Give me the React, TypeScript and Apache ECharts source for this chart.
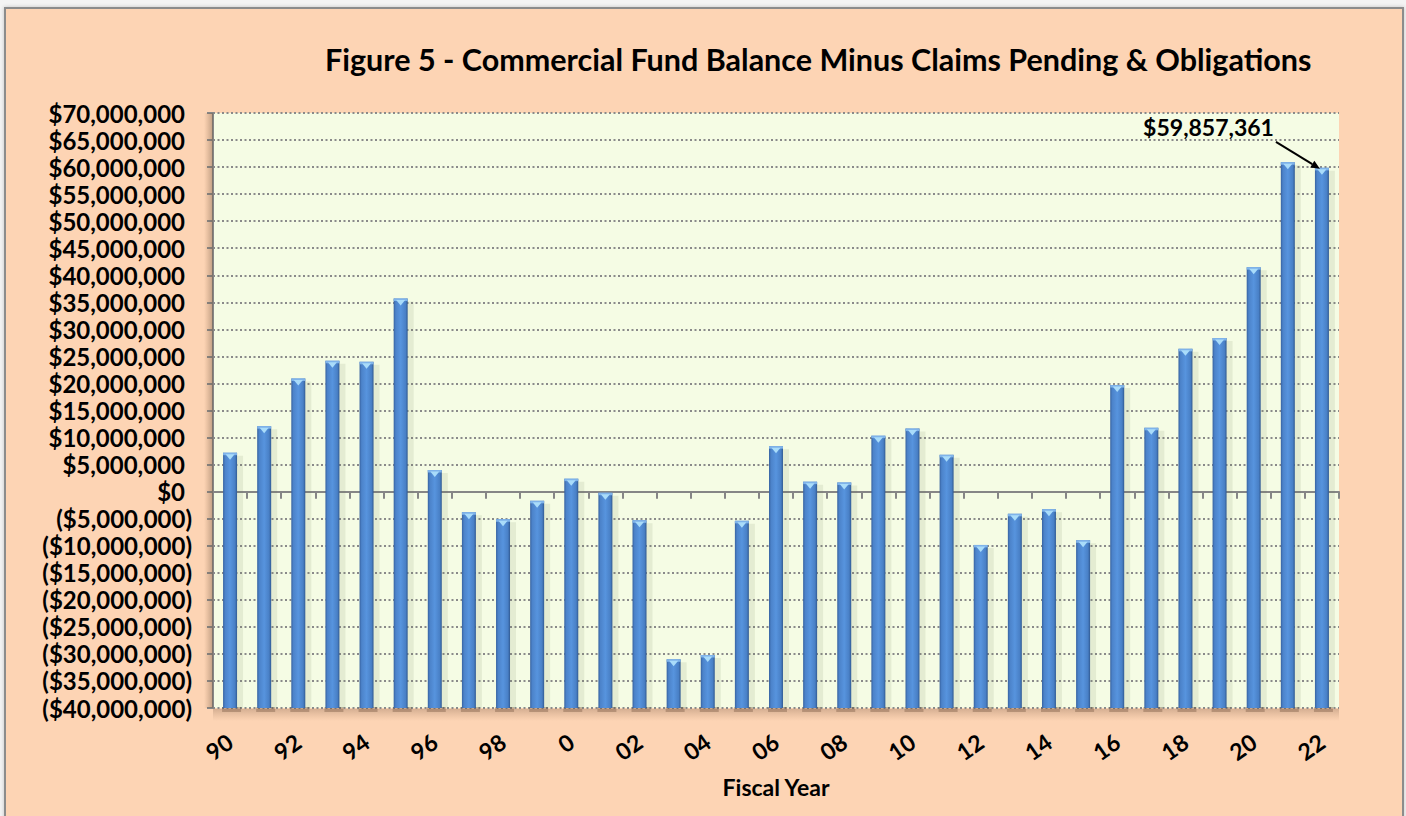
import React, { useEffect, useRef } from "react";
import * as echarts from "echarts";

const categories = [
  "90", "91", "92", "93", "94", "95", "96", "97", "98", "99",
  "0", "01", "02", "03", "04", "05", "06", "07", "08", "09",
  "10", "11", "12", "13", "14", "15", "16", "17", "18", "19",
  "20", "21", "22",
];

const balances = [
  7200000, 12100000, 20900000, 24200000, 24000000, 35700000, 4000000, -3800000, -5100000, -1700000,
  2400000, -200000, -5300000, -31000000, -30200000, -5400000, 8400000, 1850000, 1700000, 10350000,
  11650000, 6800000, -9850000, -4100000, -3250000, -9000000, 19700000, 11800000, 26400000, 28400000,
  41500000, 60900000, 59857361,
];

const Y_MIN = -40000000;
const Y_MAX = 70000000;
const Y_STEP = 5000000;

const TITLE = "Figure 5 - Commercial Fund Balance Minus Claims Pending & Obligations";
const X_NAME = "Fiscal Year";
const CALLOUT_INDEX = 32;
const CALLOUT_TEXT = "$59,857,361";

const FONT = "Lato";

function money(v: number): string {
  const s = Math.abs(v).toLocaleString("en-US");
  return v < 0 ? `{n|($${s})}` : `{n|$${s}}{p|}`;
}

export default function App() {
  const ref = useRef<HTMLDivElement>(null);

  useEffect(() => {
    if (!ref.current) return;
    const chart = echarts.init(ref.current, undefined, { renderer: "svg" });

    const gridLeft = 213;
    const gridTop = 113;
    const gridWidth = 1126;
    const gridHeight = 595;

    chart.setOption({
      animation: false,
      backgroundColor: "transparent",
      title: {
        text: TITLE,
        left: 320,
        top: 38,
        textStyle: { fontFamily: FONT, fontWeight: "bold", fontSize: 30.5, color: "#000" },
      },
      grid: {
        left: gridLeft,
        top: gridTop,
        width: gridWidth,
        height: gridHeight,
        show: true,
        backgroundColor: "#F5FCE4",
        borderWidth: 0,
      },
      xAxis: {
        type: "category",
        data: categories,
        boundaryGap: true,
        axisLine: { show: true, lineStyle: { color: "#868686", width: 2 } },
        axisTick: { show: true, interval: 0, length: 7, lineStyle: { color: "#868686", width: 2 } },
        axisLabel: {
          interval: 1,
          rotate: 35,
          margin: 31,
          fontFamily: FONT,
          fontWeight: "bold",
          fontSize: 23,
          color: "#000",
        },
        name: X_NAME,
        nameLocation: "middle",
        nameGap: 67,
        nameTextStyle: { fontFamily: FONT, fontWeight: "bold", fontSize: 23, color: "#000" },
        splitLine: { show: false },
      },
      yAxis: {
        type: "value",
        min: Y_MIN,
        max: Y_MAX,
        interval: Y_STEP,
        axisLine: { show: true, lineStyle: { color: "#868686", width: 2 } },
        axisTick: { show: true, length: 6, lineStyle: { color: "#868686", width: 2 } },
        splitLine: { show: true, lineStyle: { color: "#8a8a8a", width: 2, type: [2, 2.5] } },
        axisLabel: {
          margin: 21,
          formatter: (v: number) => money(v),
          rich: {
            n: { fontFamily: FONT, fontWeight: "bold", fontSize: 24, color: "#000" },
            p: { width: 7 },
          },
        },
      },
      series: [
        {
          type: "custom",
          encode: { x: 0, y: 1 },
          data: balances.map((v, i) => [i, v]),
          renderItem: (params: any, api: any) => {
            const i = api.value(0);
            const v = api.value(1);
            const top = api.coord([i, v]);
            const base = api.coord([i, Y_MIN]);
            const w = api.size([1, 0])[0] * 0.41;
            const x = top[0] - w / 2;
            const y = top[1];
            const h = base[1] - top[1];
            return {
              type: "group",
              children: [
                {
                  type: "rect",
                  shape: { x: x + 2, y: y + 3, width: w + 4, height: h - 3 },
                  style: { fill: "rgba(110,120,80,0.12)" },
                },
                {
                  type: "rect",
                  shape: { x: x - 1, y: base[1] - 1, width: w + 5, height: 5 },
                  style: { fill: "rgba(90,60,40,0.3)" },
                },
                {
                  type: "rect",
                  shape: { x, y, width: w, height: h },
                  style: {
                    fill: {
                      type: "linear",
                      x: 0, y: 0, x2: 1, y2: 0,
                      colorStops: [
                        { offset: 0, color: "#3762A0" },
                        { offset: 0.15, color: "#4C83CA" },
                        { offset: 0.5, color: "#5794DE" },
                        { offset: 0.85, color: "#4980C6" },
                        { offset: 1, color: "#315A92" },
                      ],
                    },
                  },
                },
                {
                  type: "rect",
                  shape: { x, y, width: w, height: 2.5 },
                  style: { fill: "#7FB3EA" },
                },
                {
                  type: "polygon",
                  shape: { points: [[x + 2.5, y + 1.5], [x + w - 2.5, y + 1.5], [top[0], y + 7]] },
                  style: { fill: "#A9DCFA" },
                },
              ],
            };
          },
        },
      ],
    });

    const pt = chart.convertToPixel({ xAxisIndex: 0, yAxisIndex: 0 }, [
      categories[CALLOUT_INDEX],
      balances[CALLOUT_INDEX],
    ]) as number[];

    const ax = pt[0] - 46;
    const ay = pt[1] - 26;
    const tx = pt[0] - 2;
    const ty = pt[1] + 1;
    const ang = Math.atan2(ty - ay, tx - ax);
    const ah = 9;
    const aw = 4;
    const bx = tx - ah * Math.cos(ang);
    const by = ty - ah * Math.sin(ang);

    chart.setOption({
      graphic: [
        {
          type: "rect",
          shape: { x: gridLeft - 9, y: gridTop, width: 9, height: gridHeight },
          style: {
            fill: {
              type: "linear", x: 0, y: 0, x2: 1, y2: 0,
              colorStops: [
                { offset: 0, color: "rgba(150,110,80,0)" },
                { offset: 1, color: "rgba(110,90,70,0.45)" },
              ],
            },
          },
          silent: true,
          z: 1,
        },
        {
          type: "rect",
          shape: { x: gridLeft, y: gridTop + gridHeight + 1, width: gridWidth, height: 12 },
          style: {
            fill: {
              type: "linear", x: 0, y: 0, x2: 0, y2: 1,
              colorStops: [
                { offset: 0, color: "rgba(110,80,60,0.28)" },
                { offset: 1, color: "rgba(150,110,80,0)" },
              ],
            },
          },
          silent: true,
          z: 1,
        },
        {
          type: "line",
          shape: { x1: ax, y1: ay, x2: bx, y2: by },
          style: { stroke: "#000", lineWidth: 2 },
          z: 10,
        },
        {
          type: "polygon",
          shape: {
            points: [
              [tx, ty],
              [bx + aw * Math.sin(ang), by - aw * Math.cos(ang)],
              [bx - aw * Math.sin(ang), by + aw * Math.cos(ang)],
            ],
          },
          style: { fill: "#000" },
          z: 10,
        },
        {
          type: "text",
          x: ax - 2,
          y: ay - 15,
          style: {
            text: CALLOUT_TEXT,
            align: "right",
            verticalAlign: "middle",
            fontFamily: FONT,
            fontWeight: "bold",
            fontSize: 23,
            fill: "#000",
          },
          z: 10,
        },
      ],
    });

    return () => chart.dispose();
  }, []);

  return (
    <div style={{ position: "absolute", left: 0, top: 0, width: 1406, height: 816, background: "#f4f4f4", overflow: "hidden" }}>
      <div
        style={{
          position: "absolute",
          left: 4,
          top: 7,
          width: 1396,
          height: 830,
          background: "#FDD4B4",
          border: "2px solid #8c8c8c",
          boxShadow: "0 0 4px rgba(0,0,0,0.2)",
        }}
      />
      <div ref={ref} style={{ position: "absolute", left: 0, top: 0, width: 1406, height: 816 }} />
    </div>
  );
}
